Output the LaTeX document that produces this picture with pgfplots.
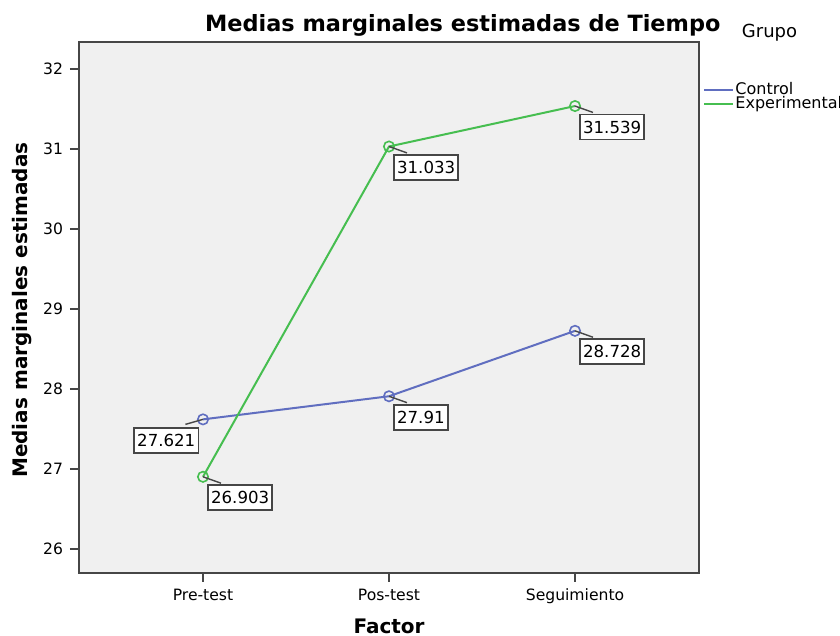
\documentclass[border=0pt]{standalone}
\usepackage{pgfplots}
\pgfplotsset{compat=1.18}
\usepackage{fontspec}
\setmainfont{DejaVu Sans}
\usetikzlibrary{calc}
\definecolor{ctrl}{RGB}{96,110,192}
\definecolor{expe}{RGB}{70,190,80}
\definecolor{bg}{RGB}{240,240,240}
\definecolor{axc}{RGB}{70,70,70}
\tikzset{
 lblbox/.style={draw=axc, line width=0.9pt, fill=white, inner xsep=1.6pt, inner ysep=3.2pt, text height=6.1pt, text depth=0pt, font=\fontsize{8.3}{9}\selectfont, text=black},
 lblnw/.style={lblbox, anchor=north west, xshift=2pt, yshift=-3.8pt,
   append after command={($(\tikzlastnode.north west)+(-2pt,3.8pt)$) edge[draw=axc, line width=0.7pt] ($(\tikzlastnode.north west)+(7pt,0.6pt)$)}},
 lblne/.style={lblbox, anchor=north east, xshift=-1.8pt, yshift=-4pt,
   append after command={($(\tikzlastnode.north east)+(1.8pt,4pt)$) edge[draw=axc, line width=0.7pt] ($(\tikzlastnode.north east)+(-7pt,1.5pt)$)}},
}
\begin{document}
\begin{tikzpicture}
\useasboundingbox (-39.5pt,-31.5pt) rectangle (380.5pt,286.5pt);
\begin{axis}[
 at={(0,0)}, anchor=south west,
 scale only axis, width=310pt, height=265.5pt,
 xmin=-0.6667, xmax=2.6667, ymin=25.7, ymax=32.34,
 xtick={0,1,2}, xticklabels={Pre-test,Pos-test,Seguimiento},
 ytick={26,27,28,29,30,31,32},
 tick align=outside, xtick pos=bottom, ytick pos=left,
 major tick length=4.5pt,
 axis line style={draw=axc, line width=1pt},
 tick style={draw=axc, line width=0.9pt},
 axis background/.style={fill=bg},
 /pgf/number format/assume math mode=true,
 tick label style={font=\fontsize{7.8}{9}\selectfont},
 xlabel={Factor}, ylabel={Medias marginales estimadas},
 xlabel style={at={(axis description cs:0.5,-0.1)}, anchor=center, font=\fontsize{10}{12}\selectfont\bfseries},
 ylabel style={at={(axis description cs:-0.092,0.495)}, anchor=center, font=\fontsize{10}{12}\selectfont\bfseries},
 legend style={at={(axis description cs:1.0065,0.923)}, anchor=north west, draw=none, fill=none, inner sep=0pt, row sep=0pt, font=\fontsize{8}{9}\selectfont, nodes={inner sep=0.5pt, text height=5.2pt, text depth=0.8pt}},
 legend cell align=left,
 legend image code/.code={\draw[#1] (0pt,0pt) -- (14.5pt,0pt);},
 extra description/.code={
   \node[font=\fontsize{9}{11}\selectfont] at (1.1137,1.017) {Grupo};
   \node[font=\fontsize{11.2}{13}\selectfont\bfseries, anchor=base] at (0.619,1.0) [yshift=5pt] {Medias marginales estimadas de Tiempo};
 },
]
\addplot[ctrl, line width=1pt, mark=o, mark size=2.6pt, mark options={line width=0.8pt}] coordinates {(0,27.621) (1,27.91) (2,28.728)};
\addlegendentry{Control}
\addplot[expe, line width=1pt, mark=o, mark size=2.6pt, mark options={line width=0.8pt}] coordinates {(0,26.903) (1,31.033) (2,31.539)};
\addlegendentry{Experimental}
\addplot[draw=none, mark=none, forget plot, nodes near coords, point meta=explicit symbolic, nodes near coords style={lblnw}] coordinates {(1,27.91)[27.91] (2,28.728)[28.728] (0,26.903)[26.903] (1,31.033)[31.033] (2,31.539)[31.539]};
\addplot[draw=none, mark=none, forget plot, nodes near coords, point meta=explicit symbolic, nodes near coords style={lblne}] coordinates {(0,27.621)[27.621]};
\end{axis}
\end{tikzpicture}
\end{document}
